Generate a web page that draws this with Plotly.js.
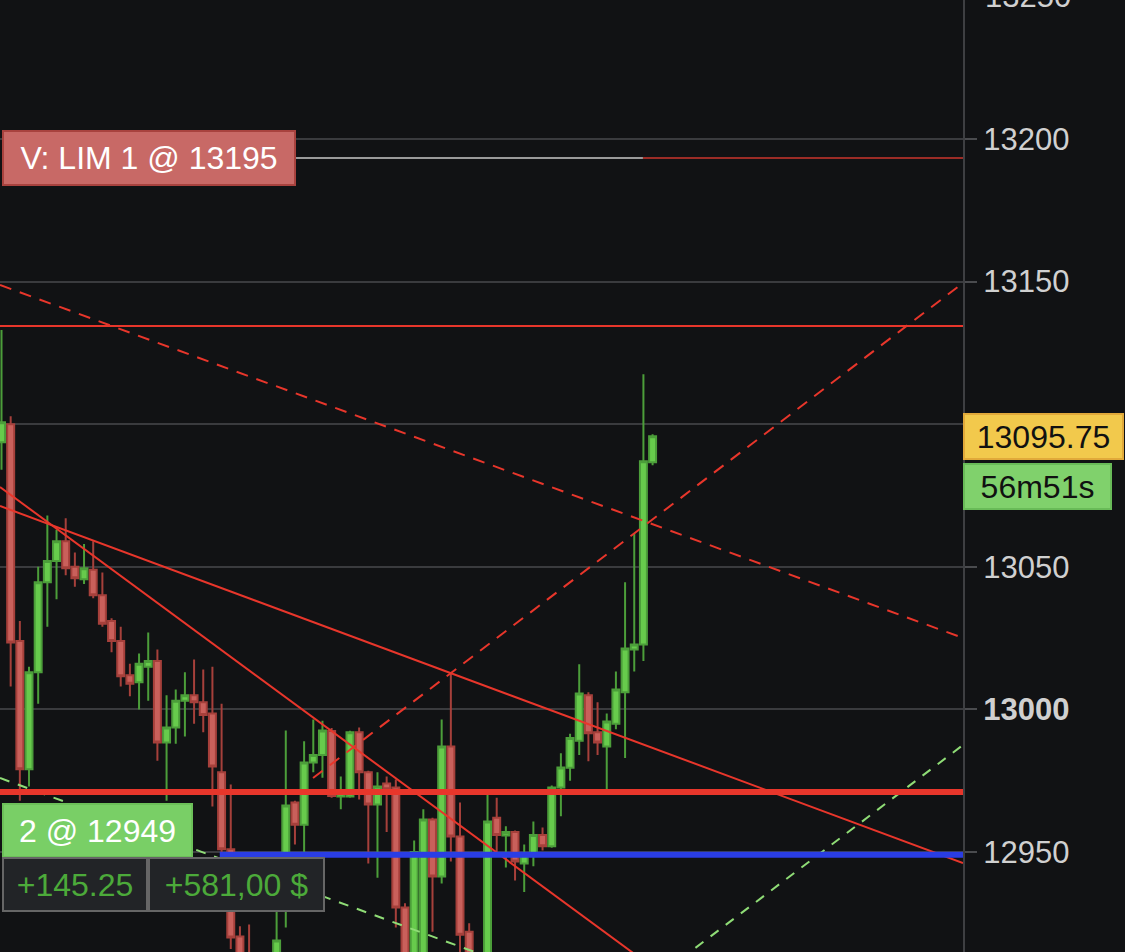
<!DOCTYPE html>
<html>
<head>
<meta charset="utf-8">
<script src="https://cdn.plot.ly/plotly-3.0.1.min.js"></script>
<style>
  html, body { margin: 0; padding: 0; background: #111214; }
  #chart { width: 1125px; height: 952px; }
</style>
</head>
<body>
<div id="chart"></div>
<script>
// ---- Candles (index, open, high, low, close) ----
const candleIndex = Array.from({length: 72}, (_, i) => i);
const openP  = [13093.7,13100,13024,12979,13013,13044.6,13052,13059,13050,13045.6,
                13049,13040,13031,13024,13012,13009.5,13015,13017,12988.4,12993.7,
                13003,13005,13002.5,12998.6,12978,12951,12920.4,12908,12900,12905,
                12910,12935,12967.4,12959.6,12981.4,12984,12992.4,12969.5,12969.5,12992,
                12978,12966.7,12974,12972.6,12930.5,12900,12912,12961.4,12941.4,12987,
                12955.4,12922,12895,12906,12962,12955.8,12957,12946,12949.5,12956,
                12952,12972.6,12979.5,12989,13005,12992,12987,12995,13006,13021,
                13022.8,13086.7];
const highP  = [13133,13102.8,13031,13015,13050,13068,13063,13067,13055,13058,
                13059,13048,13032,13029,13016,13019.6,13027,13021,13005,13007,
                13013,13017.5,13014,13015,13002,12973.7,12924,12924.6,12912,12913,
                12929,12992.6,12968,12988.8,12996.5,12996,12993.5,12976.5,12992.5,12993.7,
                12978.5,12978,12976.5,12975.4,12932,12954,12965,12962,12996.5,13013,
                12967.4,12925,12913,12970,12969,12959,12957.5,12952.6,12960.7,12958.6,
                12973.3,12984.6,12991.5,13015.8,13006,13002.5,12998.6,13013.3,13044.6,13061.8,
                13117.5,13096.5];
const lowP   = [13084,13008,12968,12973,13002,13029,13038.6,13047,13043,13044,
                13039,13029,13020,13008,13004.6,13000,13003,12982,12968,12988,
                12990.5,12995,12992,12966,12948,12916,12902,12895,12890,12893,
                12905,12923.5,12952.6,12950,12978,12976,12969,12965,12969,12968.4,
                12946,12941,12957,12923.5,12900,12895,12905,12922,12939,12946.7,
                12912,12900,12890,12900,12950,12944.6,12940,12936,12945,12950.5,
                12951.5,12962.5,12975,12984,12981.8,12984,12972,12993,12983,13013.3,
                13017,13085.6];
const closeP = [13100.7,13023.5,12979,13013,13044.6,13052,13059,13049.5,13046,13049.5,
                13040,13030,13024,13011.6,13009,13016,13017,12988.4,12993.7,13003,
                13005,13002.5,12998,12980,12951,12920,12908,12900,12905,12910,
                12919,12966.3,12959.6,12981.4,12984,12992.6,12969.6,12971,12992,12978,
                12966.7,12973,12972,12930.5,12908,12950,12961.4,12941.4,12987,12955.4,
                12921,12908,12908,12960.7,12956,12957,12946.7,12949.5,12956,12952,
                12972.6,12979.6,12990,13005.6,12991.6,12988.4,12995.8,13007,13021.4,13022.8,
                13087,13095.75];

// ---- Axis ----
const xRange = [-0.164, 104.85];
const yRange = [12914.94, 13248.74];
const tickVals = [12950, 13000, 13050, 13100, 13150, 13200, 13250];
const tickText = ['12950', '<b>13000</b>', '13050', '13100', '13150', '13200', '13250'];

// ---- Drawn trend lines (index / price) ----
const trendX0 = [-0.164, -0.164, -0.164, 33.97, -0.164, 70.72];
const trendY0 = [13077.98, 13071.32, 13148.81, 12975.95, 12975.95, 12904.32];
const trendX1 = [76.17, 104.85, 104.85, 104.85, 104.85, 104.85];
const trendY1 = [12897.34, 12946.15, 13025.04, 13149.51, 12852.2, 12987.52];
const trendColor = ['#e8362b', '#e8362b', '#e8362b', '#e8362b', '#8fdc76', '#8fdc76'];
const trendDash  = ['solid', 'solid', '12px,9px', '12px,9px', '10px,9px', '10px,9px'];

// ---- Horizontal levels ----
const resistLevel = 13134.4;
const stopLevel = 12971.0;
const entryPrice = 12949;
const entryStartIndex = 23.8;
const orderPrice = 13193.3;
const orderSplitIndex = 69.95;
const orderLabelStartIndex = 32.11;

// ---- Texts ----
const orderLabel = 'V: LIM 1 @ 13195';
const lastPriceLabel = '13095.75';
const lastPrice = 13095.75;
const timerLabel = '56m51s';
const positionLabel = '2 @ 12949';
const pointsLabel = '+145.25';
const pnlLabel = '+581,00 $';

const FONT = 'Liberation Sans, Arial, Helvetica, sans-serif';

const trace = {
  type: 'candlestick',
  x: candleIndex, open: openP, high: highP, low: lowP, close: closeP,
  increasing: {line: {color: '#4c9e3a', width: 2}, fillcolor: '#67cb4c'},
  decreasing: {line: {color: '#a6403b', width: 2}, fillcolor: '#c9605b'},
  whiskerwidth: 0,
  hoverinfo: 'skip'
};

const shapes = [];
for (let i = 0; i < trendX0.length; i++) {
  shapes.push({type: 'line', xref: 'x', yref: 'y',
    x0: trendX0[i], y0: trendY0[i], x1: trendX1[i], y1: trendY1[i],
    line: {color: trendColor[i], width: 2, dash: trendDash[i]}});
}
shapes.push({type: 'line', xref: 'paper', yref: 'y', x0: 0, x1: 1, y0: resistLevel, y1: resistLevel,
  line: {color: '#e8362b', width: 2}});
shapes.push({type: 'line', xref: 'paper', yref: 'y', x0: 0, x1: 1, y0: stopLevel, y1: stopLevel,
  line: {color: '#e8362b', width: 6}});
shapes.push({type: 'line', xref: 'x', yref: 'y', x0: entryStartIndex, x1: xRange[1], y0: entryPrice, y1: entryPrice,
  line: {color: '#2a3de4', width: 6}});
shapes.push({type: 'line', xref: 'x', yref: 'y', x0: orderLabelStartIndex, x1: orderSplitIndex, y0: orderPrice, y1: orderPrice,
  line: {color: '#9a9a9a', width: 2}});
shapes.push({type: 'line', xref: 'x', yref: 'y', x0: orderSplitIndex, x1: xRange[1], y0: orderPrice, y1: orderPrice,
  line: {color: '#9c2c26', width: 2}});

const PW = 963, PH = 952;
const px2paperX = px => px / PW;
const px2paperY = py => 1 - py / PH;
const val2paperY = v => (v - yRange[0]) / (yRange[1] - yRange[0]);

function box(text, xPx, y, yref, w, h, bg, border, color) {
  return {text: text, xref: 'paper', x: px2paperX(xPx), xanchor: 'left',
    yref: yref, y: y, yanchor: 'middle', showarrow: false,
    width: w, height: h, align: 'center', valign: 'middle',
    bgcolor: bg, bordercolor: border, borderwidth: 2, borderpad: 0,
    font: {family: FONT, size: 32, color: color}};
}

const annotations = [
  box(orderLabel, 2, orderPrice, 'y', 290, 52, '#c86966', '#a8423e', '#ffffff'),
  box(lastPriceLabel, 963, lastPrice, 'y', 157, 43, '#f2c94c', '#e1a93a', '#111111'),
  box(timerLabel, 963, px2paperY(486.5), 'paper', 145, 43, '#80d16c', '#69bb58', '#111111'),
  box(positionLabel, 2, px2paperY(830), 'paper', 187, 51, '#79cf66', '#6cc059', '#ffffff'),
  box(pointsLabel, 2, px2paperY(884.5), 'paper', 142, 51, '#222427', '#666666', '#4caa3a'),
  box(pnlLabel, 148, px2paperY(884.5), 'paper', 173, 51, '#222427', '#666666', '#4caa3a'),
  {text: tickText[tickText.length - 1], xref: 'paper', x: px2paperX(983), xanchor: 'left',
   yref: 'paper', y: val2paperY(tickVals[tickVals.length - 1]), yanchor: 'middle', showarrow: false,
   font: {family: FONT, size: 31, color: '#d0d0d0'}}
];

const layout = {
  width: 1125, height: 952, autosize: false,
  margin: {l: 0, r: 162, t: 0, b: 0, pad: 0},
  paper_bgcolor: '#111214', plot_bgcolor: '#111214',
  showlegend: false, hovermode: false, dragmode: false,
  boxgap: 0.2, boxgroupgap: 0.05,
  xaxis: {range: xRange, visible: false, rangeslider: {visible: false}, fixedrange: true},
  yaxis: {range: yRange, side: 'right', tickvals: tickVals, ticktext: tickText,
    showgrid: true, gridcolor: '#3a3b3e', gridwidth: 2, zeroline: false,
    showline: true, linecolor: '#3e3f42', linewidth: 2,
    ticks: 'outside', ticklen: 12, tickwidth: 2, tickcolor: '#4a4b4e',
    ticklabelstandoff: 0,
    tickfont: {family: FONT, size: 31, color: '#d0d0d0'}, fixedrange: true},
  shapes: shapes,
  annotations: annotations
};

Plotly.newPlot('chart', [trace], layout, {displayModeBar: false, staticPlot: true});
</script>
</body>
</html>
